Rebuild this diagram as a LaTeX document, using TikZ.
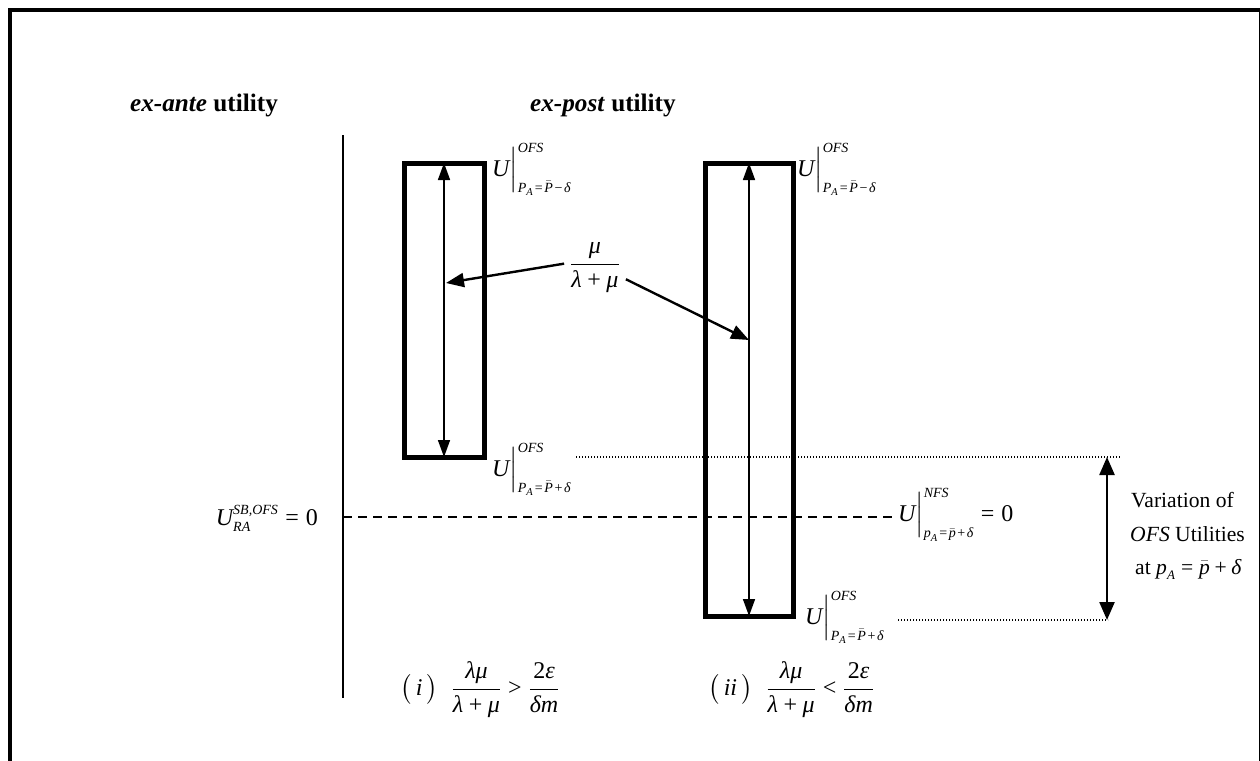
\documentclass[tikz,border=0pt]{standalone}
\usepackage{amsmath}
\usepackage{fontspec}
\setmainfont{Liberation Serif}
\usetikzlibrary{arrows.meta,calc}
\DeclareMathSizes{21.6}{21.6}{13}{10}
\DeclareMathSizes{24}{24}{14}{10.5}
\newcommand{\iv}[1]{\text{\itshape #1}}
\newcommand{\tv}[1]{\text{\upshape #1}}
\newcommand{\teq}{\mathrel{\tv{=}}}
\newcommand{\tplus}{\mathbin{\tv{+}}}
\newcommand{\tgt}{\mathrel{\tv{>}}}
\newcommand{\tlt}{\mathrel{\tv{<}}}
\newcommand{\sop}[1]{\mkern2mu\tv{#1}\mkern2mu}
\newcommand{\Uofs}[1]{$\iv{U}\Big|^{\iv{OFS}}_{\iv{P}_{\iv{A}}\sop{=}\bar{\iv{P}}\sop{#1}\iv{δ}}$}
\begin{document}
\begin{tikzpicture}[x=1pt,y=-1pt,
  txt/.style={font=\fontsize{21.6}{26}\selectfont, inner sep=0pt},
  mth/.style={font=\fontsize{24}{28}\selectfont, inner sep=0pt},
  hd/.style={font=\fontsize{25.2}{30}\selectfont\bfseries, inner sep=0pt},
  ubox/.style={draw, line width=5pt, inner sep=0pt},
  span/.style={line width=1.6pt, {Triangle[length=17pt,width=12pt]}-{Triangle[length=17pt,width=12pt]}, shorten <=2.5pt, shorten >=2.5pt},
  bigspan/.style={line width=2.4pt, {Triangle[length=18pt,width=15pt]}-{Triangle[length=18pt,width=15pt]}},
  ptr/.style={line width=2.4pt, -{Triangle[length=18pt,width=14pt]}},
  dotline/.style={line width=1.4pt, dash pattern=on 1.4pt off 1.6pt},
  zeroline/.style={line width=1.6pt, dash pattern=on 9pt off 6pt}
]
\useasboundingbox (0,0) rectangle (1260,760);
% frame
\draw[line width=3.5pt] (10,10) rectangle (1260.5,800);

% headings
\node[hd, anchor=base west] (hA) at (130,111) {\itshape ex-ante\/ \upshape utility};
\node[hd, anchor=base west] (hP) at (530,111) {\itshape ex-post\/ \upshape utility};

% vertical axis
\coordinate (vt) at (343,135);
\coordinate (vb) at (343,698);
\draw[line width=1.8pt] (vt) -- (vb);

% boxes
\node[ubox, minimum width=80pt, minimum height=294pt] (LB) at (444,310) {};
\node[ubox, minimum width=88pt, minimum height=453pt] (RB) at (749,389.5) {};
\draw[span] (LB.north) -- (LB.south);
\draw[span] (RB.north) -- (RB.south);

% box labels
\node[mth, anchor=base west] (lt) at (492,176) {\Uofs{−}};
\node[mth, anchor=base west] (lb) at (492,476) {\Uofs{+}};
\node[mth, anchor=base west] (rt) at (797,176) {\Uofs{−}};
\node[mth, anchor=base west] (rb) at (805,624) {\Uofs{+}};

% fraction and pointers
\node[mth, inner sep=6pt] (frac) at (595,268) {$\dfrac{\iv{μ}}{\iv{λ}\tplus\iv{μ}}$};
\coordinate (la) at (446,283);
\coordinate (ra) at (749,340);
\draw[ptr] (frac.172) -- (la);
\draw[ptr] (frac.-20) -- (ra);

% zero line
\node[mth, anchor=base east] (sb) at (318,525) {$\iv{U}^{\iv{SB,OFS}}_{\iv{RA}}\teq\tv{0}$};
\node[mth, anchor=base west, inner sep=2pt] (nfs) at (896,521) {$\iv{U}\Big|^{\iv{NFS}}_{\iv{p}_{\iv{A}}\sop{=}\bar{\iv{p}}\sop{+}\iv{δ}}\teq\tv{0}$};
\coordinate (d0) at (343,517);
\draw[zeroline] (d0) -- (nfs.west |- d0);

% dotted levels
\coordinate (u1) at (576,457);
\coordinate (u2) at (1120,457);
\coordinate (w1) at (898,620);
\coordinate (w2) at (1108,620);
\draw[dotline] (u1) -- (u2);
\draw[dotline] (w1) -- (w2);

% variation arrow
\coordinate (va) at (1107,457);
\coordinate (vz) at (1107,620);
\draw[bigspan] (va) -- (vz);
\node[txt, anchor=base west] (t1) at (1131,507) {Variation of};
\node[txt, anchor=base west] (t2) at (1130,541) {\itshape OFS\/ \upshape Utilities};
\node[txt, anchor=base west] (t3) at (1135,574) {at $\iv{p}_{\iv{A}}\teq\bar{\iv{p}}\tplus\iv{δ}$};

% conditions
\node[mth, anchor=west] (c1) at (400,690) {$\big(\,\iv{i}\,\big)\;\;\dfrac{\iv{λμ}}{\iv{λ}\tplus\iv{μ}}\tgt\dfrac{\tv{2}\iv{ε}}{\iv{δm}}$};
\node[mth, anchor=west] (c2) at (708,690) {$\big(\,\iv{ii}\,\big)\;\;\dfrac{\iv{λμ}}{\iv{λ}\tplus\iv{μ}}\tlt\dfrac{\tv{2}\iv{ε}}{\iv{δm}}$};
\end{tikzpicture}
\end{document}
